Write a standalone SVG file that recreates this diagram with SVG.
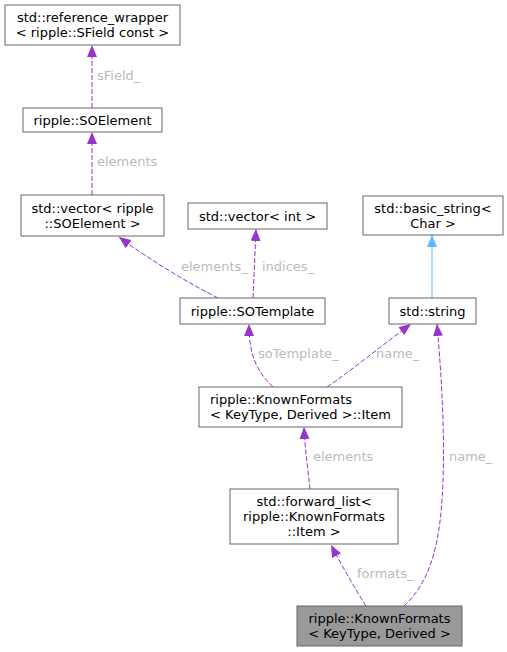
<svg xmlns="http://www.w3.org/2000/svg" width="507" height="652" viewBox="0 0 507 652">
<style>
.box{fill:#ffffff;stroke:#666666;stroke-width:1}
.cur{fill:#999999;stroke:#666666;stroke-width:1}
text{font-family:"DejaVu Sans",sans-serif;font-size:13px;fill:#000000}
.m{text-anchor:middle}
.lbl{fill:#bbbbbb}
.dep{fill:none;stroke:#9a32cd;stroke-width:1;stroke-dasharray:5,2}
.inh{fill:none;stroke:#63b8ff;stroke-width:1}
</style>
<defs>
<marker id="ap" viewBox="0 0 12 10" refX="12" refY="5" markerWidth="12" markerHeight="10" markerUnits="userSpaceOnUse" orient="auto">
<path d="M0,0 L12,5 L0,10 z" fill="#9a32cd"/>
</marker>
<marker id="ab" viewBox="0 0 12 10" refX="12" refY="5" markerWidth="12" markerHeight="10" markerUnits="userSpaceOnUse" orient="auto">
<path d="M0,0 L12,5 L0,10 z" fill="#63b8ff"/>
</marker>
</defs>
<g id="connectors">
<path class="dep" d="M92,108 L92,45" marker-end="url(#ap)"/>
<text class="lbl" x="97" y="80">sField_</text>
<path class="dep" d="M92,195 L92,132" marker-end="url(#ap)"/>
<text class="lbl" x="97" y="166">elements</text>
<path class="dep" d="M218,298 C190,284 150,260 119,237" marker-end="url(#ap)"/>
<text class="lbl" x="181" y="271">elements_</text>
<path class="dep" d="M253,298 C254,275 255,255 256,229" marker-end="url(#ap)"/>
<text class="lbl" x="262" y="271">indices_</text>
<path class="inh" d="M432,298 L432,235" marker-end="url(#ab)"/>
<path class="dep" d="M273,387 C258,372 249,358 249,324" marker-end="url(#ap)"/>
<text class="lbl" x="258" y="358">soTemplate_</text>
<path class="dep" d="M327,387 C352,370 385,343 411,324" marker-end="url(#ap)"/>
<text class="lbl" x="376" y="358">name_</text>
<path class="dep" d="M310,489 C308,470 305,450 304,427" marker-end="url(#ap)"/>
<text class="lbl" x="313" y="461">elements</text>
<path class="dep" d="M366,606 C356,590 343,568 331,545" marker-end="url(#ap)"/>
<text class="lbl" x="357" y="578">formats_</text>
<path class="dep" d="M404,606 C432,580 441,540 443,480 C445,420 440,360 437,324" marker-end="url(#ap)"/>
<text class="lbl" x="449" y="461">name_</text>
</g>
<g id="node_refwrap">
<rect class="box" x="5" y="5" width="175" height="40"/>
<text class="m" x="92.5" y="22">std::reference_wrapper</text>
<text class="m" x="92.5" y="37">&lt; ripple::SField const &gt;</text>
</g>
<g id="node_soelement">
<rect class="box" x="23" y="108" width="139" height="24"/>
<text class="m" x="92.5" y="124.5">ripple::SOElement</text>
</g>
<g id="node_vec_soelement">
<rect class="box" x="21" y="195" width="143" height="41"/>
<text class="m" x="92.5" y="212.5">std::vector&lt; ripple</text>
<text class="m" x="92.5" y="227.5">::SOElement &gt;</text>
</g>
<g id="node_vec_int">
<rect class="box" x="188" y="203" width="139" height="26"/>
<text class="m" x="257.5" y="220.5">std::vector&lt; int &gt;</text>
</g>
<g id="node_sotemplate">
<rect class="box" x="180" y="298" width="145" height="26"/>
<text class="m" x="252.5" y="315.5">ripple::SOTemplate</text>
</g>
<g id="node_basic_string">
<rect class="box" x="363" y="196" width="140" height="39"/>
<text class="m" x="433" y="213">std::basic_string&lt;</text>
<text class="m" x="433" y="228">Char &gt;</text>
</g>
<g id="node_string">
<rect class="box" x="389" y="298" width="87" height="26"/>
<text class="m" x="432.5" y="315.5">std::string</text>
</g>
<g id="node_item">
<rect class="box" x="199" y="387" width="203" height="40"/>
<text x="210" y="404">ripple::KnownFormats</text>
<text class="m" x="300.5" y="419">&lt; KeyType, Derived &gt;::Item</text>
</g>
<g id="node_forward_list">
<rect class="box" x="230" y="489" width="168" height="55"/>
<text class="m" x="314" y="505.5">std::forward_list&lt;</text>
<text class="m" x="314" y="520.5">ripple::KnownFormats</text>
<text class="m" x="314" y="535.5">::Item &gt;</text>
</g>
<g id="node_knownformats">
<rect class="cur" x="297" y="606" width="165" height="40"/>
<text class="m" x="379.5" y="623">ripple::KnownFormats</text>
<text class="m" x="379.5" y="638">&lt; KeyType, Derived &gt;</text>
</g>
</svg>
